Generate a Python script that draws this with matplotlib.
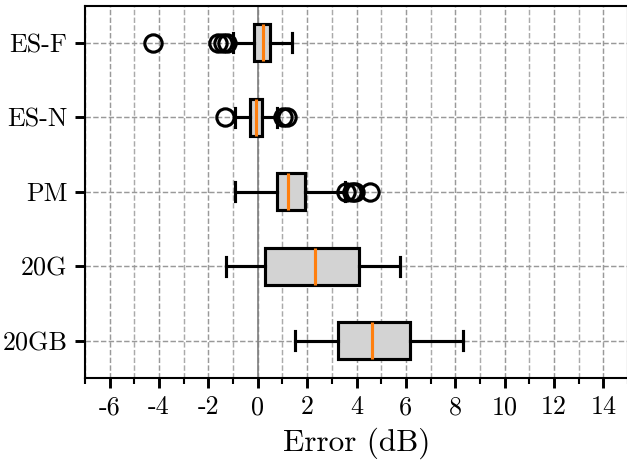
import numpy as np
import matplotlib
matplotlib.use("Agg")
import matplotlib.pyplot as plt
from matplotlib.ticker import MultipleLocator

matplotlib.rcParams["font.family"] = "serif"
matplotlib.rcParams["font.serif"] = ["cmr10"]
matplotlib.rcParams["mathtext.fontset"] = "cm"
matplotlib.rcParams["axes.unicode_minus"] = False
matplotlib.rcParams["axes.formatter.use_mathtext"] = False

# data
labels = ["ES-F", "ES-N", "PM", "20G", "20GB"]
whislo = [-1.00, -0.93, -0.92, -1.27, 1.49]
q1 = [-0.16, -0.32, 0.76, 0.31, 3.25]
med = [0.22, -0.08, 1.22, 2.33, 4.62]
q3 = [0.51, 0.17, 1.92, 4.12, 6.17]
whishi = [1.37, 0.76, 3.53, 5.78, 8.33]
fliers = [
    [-4.25, -1.62, -1.42, -1.26],
    [-1.34, 1.01, 1.18],
    [3.59, 3.83, 3.93, 4.56],
    [],
    [],
]
xticks = [-6, -4, -2, 0, 2, 4, 6, 8, 10, 12, 14]

stats = []
for i in range(len(labels)):
    stats.append(dict(label=labels[i], whislo=whislo[i], q1=q1[i], med=med[i],
                      q3=q3[i], whishi=whishi[i], fliers=fliers[i]))
positions = list(range(len(labels), 0, -1))

fig = plt.figure(figsize=(627 / 150, 464 / 150), dpi=150)
ax = fig.add_axes([85 / 627, 1 - 378 / 464, 543 / 627, 372.5 / 464])

ax.axvline(0, color="gray", lw=0.8, zorder=1)
ax.bxp(stats, positions=positions, orientation="horizontal", patch_artist=True,
       boxprops=dict(facecolor="lightgray", edgecolor="black", linewidth=1.5),
       medianprops=dict(color="#ff7f0e", linewidth=1.5),
       whiskerprops=dict(color="black", linewidth=1.5),
       capprops=dict(color="black", linewidth=1.5),
       flierprops=dict(marker="o", markerfacecolor="none", markeredgecolor="black",
                       markersize=8.3, markeredgewidth=1.5),
       zorder=3)

ax.set_xlim(-7, 15)
ax.set_ylim(0.5, len(labels) + 0.5)
ax.set_xticks(xticks)
ax.xaxis.set_minor_locator(MultipleLocator(1))
ax.set_yticks(positions)
ax.set_yticklabels(labels)
ax.tick_params(axis="both", which="major", labelsize=12.5, length=5, width=1.4)
ax.tick_params(axis="x", which="minor", length=2.8, width=1.0)
ax.grid(True, which="major", axis="both", linestyle="--", color="#999999", linewidth=0.7, zorder=0)
ax.grid(True, which="minor", axis="x", linestyle="--", color="#aaaaaa", linewidth=0.7, zorder=0)
ax.set_axisbelow(True)
ax.set_xlabel("Error (dB)", fontsize=15)
for s in ax.spines.values():
    s.set_linewidth(1.0)

plt.savefig("out.png", dpi=150)
